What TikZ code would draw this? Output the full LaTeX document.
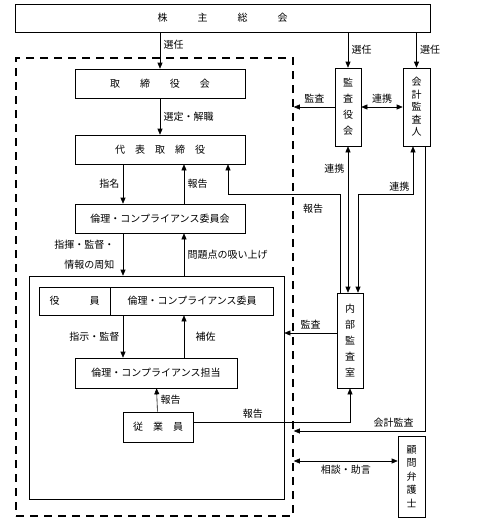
\documentclass[tikz,border=0pt]{standalone}
\usepackage{fontspec}
\setmainfont{Noto Sans CJK JP}
\usetikzlibrary{arrows.meta, positioning}

\begin{document}
\begin{tikzpicture}[x=1pt, y=-1pt, font=\fontsize{10}{12}\selectfont,
  box/.style={draw, line width=0.6pt, inner sep=0pt, align=center},
  vbox/.style={box, font=\fontsize{10}{16}\selectfont},
  grpbox/.style={draw, line width=1.6pt, dash pattern=on 8pt off 6pt},
  arr/.style={line width=0.6pt, -{Triangle[length=6pt, width=5pt]}},
  dbl/.style={line width=0.6pt, {Triangle[length=6pt, width=5pt]}-{Triangle[length=6pt, width=5pt]}}]
\useasboundingbox (0,0) rectangle (489,528);
% company side
\node[box, minimum width=415, minimum height=28] (gm) at (222.5,18) {株　　　主　　　総　　　会};
\node[grpbox, minimum width=277, minimum height=458] (grp) at (154.5,287) {};
\node[box, minimum width=170, minimum height=29] (board) at (160,83.5) {取　　締　　役　　会};
\node[box, minimum width=170, minimum height=29] (ceo) at (160,149.5) {代　表　取　締　役};
\node[box, minimum width=170, minimum height=29] (comm) at (160,218.5) {倫理・コンプライアンス委員会};
\node[draw, line width=0.6pt, minimum width=255, minimum height=223] (inner) at (156.5,387.5) {};
\node[box, minimum width=71, minimum height=28] (officer) at (74.5,301) {役　　　員};
\node[box, minimum width=163, minimum height=28, right=0pt of officer] (member) {倫理・コンプライアンス委員};
\node[box, minimum width=162, minimum height=30] (staff) at (156,373) {倫理・コンプライアンス担当};
\node[box, minimum width=70, minimum height=30] (emp) at (158,427) {従　業　員};
% audit side
\node[vbox, minimum width=26, minimum height=78] (kansa) at (348,107) {監\\査\\役\\会};
\node[vbox, font=\fontsize{10}{12.5}\selectfont, minimum width=27, minimum height=78] (kaikei) at (416.5,107) {会\\計\\監\\査\\人};
\node[vbox, minimum width=26, minimum height=95] (naibu) at (350,340.5) {内\\部\\監\\査\\室};
\node[vbox, font=\fontsize{10}{13.5}\selectfont, minimum width=27, minimum height=81] (lawyer) at (411.5,476.5) {顧\\問\\弁\\護\\士};
\coordinate (colL) at (123,0);
\coordinate (colR) at (184,0);
% connectors
\draw[arr] (gm.south -| board) -- node[right, pos=0.35] {選任} (board.north);
\draw[arr] (gm.south -| kansa) -- node[right] {選任} (kansa.north);
\draw[arr] (gm.south -| kaikei) -- node[right] {選任} (kaikei.north);
\draw[arr] (kansa.west) -- node[above] {監査} (kansa.west -| grp.east);
\draw[dbl] (kansa.east) -- node[above] {連携} (kaikei.west);
\draw[arr] (board) -- node[right] {選定・解職} (ceo);
\draw[arr] (ceo.south -| colL) -- node[left] {指名} (comm.north -| colL);
\draw[arr] (comm.north -| colR) -- node[right] {報告} (ceo.south -| colR);
\draw[arr] (comm.south -| colL) -- node[left, align=right, xshift=-5] {指揮・監督・\\[8pt]情報の周知} (inner.north -| colL);
\draw[arr] (inner.north -| colR) -- node[right] {問題点の吸い上げ} (comm.south -| colR);
\draw[arr] (member.south -| colL) -- node[left] {指示・監督} (staff.north -| colL);
\draw[arr] (staff.north -| colR) -- node[right, xshift=8] {補佐} (member.south -| colR);
\draw[arr] (emp) -- node[right] {報告} (staff);
\draw[arr] ([yshift=5]emp.east) -| node[above, pos=0.19] {報告} (naibu.south);
\draw[arr] ([xshift=-10]naibu.north) -- ++(0,-98) -| ([xshift=68]ceo.south);
\node (rptlbl) at (313,209) {報告};
\draw[dbl] (kansa.south) -- node[left, pos=0.15] {連携} (kansa.south |- naibu.north);
\draw[dbl] ([xshift=8]naibu.north) -- ++(0,-98) -| node[left, pos=0.58] {連携} ([xshift=-3.5]kaikei.south);
\draw[arr] ([yshift=7.5]naibu.west) coordinate (aud) -- node[above] {監査} (aud -| inner.east);
\draw[arr] ([xshift=8.5]kaikei.south) |- node[above, pos=0.62] {会計監査} ([yshift=-144]grp.east);
\draw[dbl] ([yshift=15.5]lawyer.west) coordinate (adv) -- node[below] {相談・助言} (adv -| grp.east);
\end{tikzpicture}
\end{document}
